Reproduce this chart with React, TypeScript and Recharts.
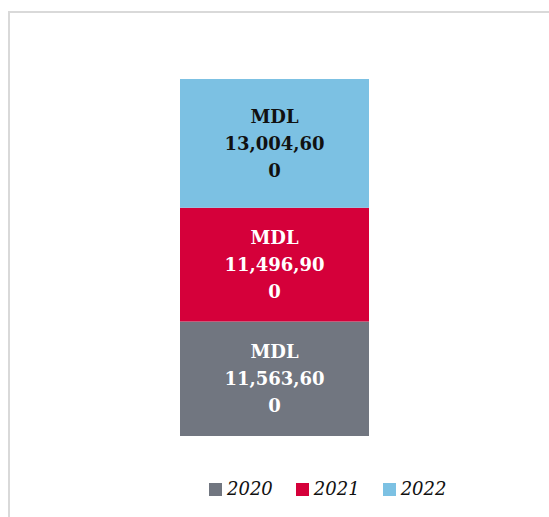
import { BarChart, Bar, XAxis, YAxis, Legend, LabelList } from 'recharts';

const years = ['2020', '2021', '2022'];
const values = [11563600, 11496900, 13004600];
const colors = ['#717680', '#d5003a', '#7cc1e3'];
const labelColors = ['#ffffff', '#ffffff', '#111111'];
const currency = 'MDL';

const row: Record<string, string | number> = { name: currency };
years.forEach((y, i) => {
  row[y] = values[i];
});
const chartData = [row];
const total = values.reduce((a, b) => a + b, 0);

const FONT = '"DejaVu Serif", serif';

function makeLabel(color: string) {
  return (props: any) => {
    const { x, y, width, height, value } = props;
    const cx = Number(x) + Number(width) / 2;
    const cy = Number(y) + Number(height) / 2;
    const s = Number(value).toLocaleString('en-US');
    const lines = [currency, s.slice(0, -1), s.slice(-1)];
    return (
      <g>
        {lines.map((t, i) => (
          <text
            key={i}
            x={cx}
            y={cy + (i - 1) * 27}
            textAnchor="middle"
            dominantBaseline="central"
            fill={color}
            fontFamily={FONT}
            fontWeight="bold"
            fontSize={18}
          >
            {t}
          </text>
        ))}
      </g>
    );
  };
}

function LegendBox() {
  return (
    <div style={{ display: 'flex', alignItems: 'center', fontFamily: FONT, fontStyle: 'italic', fontSize: 18, color: '#111' }}>
      {years.map((y, i) => (
        <div key={y} style={{ display: 'flex', alignItems: 'center', marginRight: 23 }}>
          <span style={{ width: 13, height: 13, background: colors[i], display: 'inline-block', marginRight: 5 }} />
          <span style={{ lineHeight: '18px' }}>{y}</span>
        </div>
      ))}
    </div>
  );
}

export default function App() {
  return (
    <div
      style={{
        position: 'fixed',
        top: 11,
        left: 8,
        width: 539,
        height: 504,
        overflow: 'hidden',
        borderTop: '2px solid #d9d9d9',
        borderLeft: '2px solid #d9d9d9',
        background: '#fff',
      }}
    >
      <BarChart width={529} height={504} data={chartData} margin={{ top: 66, right: 0, bottom: 81, left: 0 }}>
        <XAxis dataKey="name" hide />
        <YAxis hide domain={[0, total]} />
        <Legend
          verticalAlign="middle"
          align="center"
          wrapperStyle={{ top: 467, left: 199, width: 300, height: 18 }}
          content={() => <LegendBox />}
        />
        {years.map((y, i) => (
          <Bar key={y} dataKey={y} stackId="a" fill={colors[i]} barSize={189} isAnimationActive={false}>
            <LabelList dataKey={y} content={makeLabel(labelColors[i])} />
          </Bar>
        ))}
      </BarChart>
    </div>
  );
}
